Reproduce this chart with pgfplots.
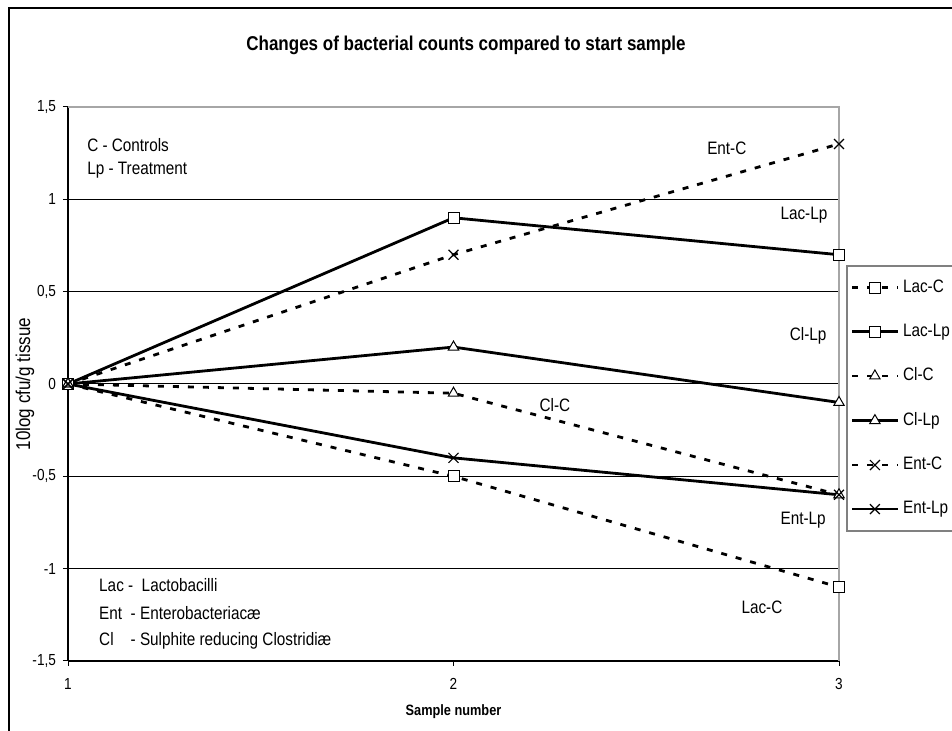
\documentclass[border=0pt]{standalone}
\usepackage{fontspec}
\setmainfont{Liberation Sans}[FakeStretch=0.85]
\usepackage{pgfplots}
\pgfplotsset{compat=1.18}
\begin{document}
\begin{tikzpicture}[x=1pt,y=1pt]
\begin{axis}[
  at={(34pt,35pt)}, anchor=south west,
  scale only axis, width=385.5pt, height=277pt,
  xmin=1, xmax=3, ymin=-1.5, ymax=1.5,
  xtick={1,2,3}, xticklabels={1,2,3},
  ytick={-1.5,-1,-0.5,0,0.5,1,1.5},
  yticklabels={{-1,5},{-1},{-0,5},{0},{0,5},{1},{1,5}},
  ymajorgrids, major grid style={black, line width=0.5pt},
  axis lines=left, axis line style={-, black, line width=0.8pt},
  tick align=outside, major tick length=2.5pt, tick style={black, line width=0.5pt},
  ticklabel style={font=\fontsize{8}{9.6}\selectfont},
  xticklabel style={yshift=-2.5pt},
  xlabel={Sample number},
  xlabel style={font=\bfseries\fontsize{7.5}{9}\selectfont, at={(axis description cs:0.5,-0.092)}, anchor=center},
  ylabel={10log cfu/g tissue},
  ylabel style={font=\fontsize{10}{12}\selectfont, at={(axis description cs:-0.0558,0.5)}, anchor=center, rotate=0},
  clip=false,
  legend style={at={(axis description cs:1.009,0.7148)}, anchor=north west, draw=gray, line width=0.8pt,
    font=\fontsize{9}{11}\selectfont, row sep=10.3pt, inner xsep=2pt, inner ysep=5pt},
  legend cell align=left,
  legend image code/.code={\draw[mark repeat=2,mark phase=2,#1] plot coordinates {(0cm,0cm) (0.4cm,0cm) (0.8cm,0cm)};},
]
\draw[gray!70, line width=0.8pt] (rel axis cs:0,1) -- (rel axis cs:1,1) -- (rel axis cs:1,0);
\addplot[black, line width=1.4pt, dash pattern=on 3pt off 4.5pt, mark=square*, mark size=2.75pt, mark options={solid, fill=white, line width=0.5pt}] coordinates {(1,0) (2,-0.5) (3,-1.1)};
\addlegendentry{Lac-C}
\addplot[black, line width=1.4pt, mark=square*, mark size=2.75pt, mark options={solid, fill=white, line width=0.5pt}] coordinates {(1,0) (2,0.9) (3,0.7)};
\addlegendentry{Lac-Lp}
\addplot[black, line width=1.4pt, dash pattern=on 3pt off 4.5pt, mark=triangle*, mark size=3pt, mark options={solid, fill=white, line width=0.5pt}] coordinates {(1,0) (2,-0.05) (3,-0.6)};
\addlegendentry{Cl-C}
\addplot[black, line width=1.4pt, mark=triangle*, mark size=3pt, mark options={solid, fill=white, line width=0.5pt}] coordinates {(1,0) (2,0.2) (3,-0.1)};
\addlegendentry{Cl-Lp}
\addplot[black, line width=1.4pt, dash pattern=on 3pt off 4.5pt, mark=x, mark size=3.5pt, mark options={solid, line width=0.6pt}] coordinates {(1,0) (2,0.7) (3,1.3)};
\addlegendentry{Ent-C}
\addplot[black, line width=1.4pt, mark=x, mark size=3.5pt, mark options={solid, line width=0.6pt}] coordinates {(1,0) (2,-0.4) (3,-0.6)};
\addlegendentry{Ent-Lp}
\begin{scope}[font=\fontsize{9}{11}\selectfont, every node/.append style={inner sep=0pt}]
\node[anchor=west] at (axis cs:1.049,1.294) {C - Controls};
\node[anchor=west] at (axis cs:1.049,1.159) {Lp - Treatment};
\node[anchor=west] at (axis cs:1.08,-1.088) {Lac -\ \ Lactobacilli};
\node[anchor=west] at (axis cs:1.08,-1.240) {Ent\ \ - Enterobacteriacæ};
\node[anchor=west] at (axis cs:1.08,-1.392) {Cl\ \ \ \ - Sulphite reducing Clostridiæ};
\node at (axis cs:2.709,1.278) {Ent-C};
\node at (axis cs:2.909,0.915) {Lac-Lp};
\node at (axis cs:2.92,0.26) {Cl-Lp};
\node at (axis cs:2.263,-0.114) {Cl-C};
\node at (axis cs:2.907,-0.736) {Ent-Lp};
\node at (axis cs:2.8,-1.21) {Lac-C};
\end{scope}
\end{axis}
\node[font=\bfseries\fontsize{10}{12}\selectfont] at (233pt,343pt) {Changes of bacterial counts compared to start sample};
\draw[black, line width=1pt] (4.5pt,-5pt) -- (4.5pt,361.5pt) -- (480pt,361.5pt);
\pgfresetboundingbox
\useasboundingbox (0,0) rectangle (476pt,365.5pt);
\end{tikzpicture}
\end{document}
